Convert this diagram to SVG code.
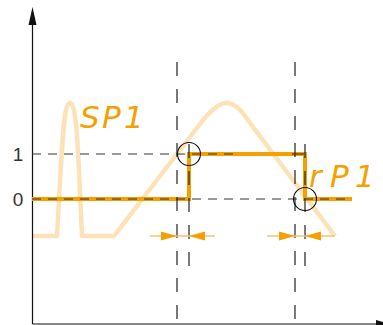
<svg xmlns="http://www.w3.org/2000/svg" width="383" height="325" viewBox="0 0 383 325">
<defs>
<style>
.axis{stroke:#111;stroke-width:1.2;fill:none}
.vd{stroke:#222;stroke-width:1.2;stroke-dasharray:14,13;fill:none}
.hd{stroke:#333;stroke-width:1.1;stroke-dasharray:9,7;fill:none}
.sig{stroke:#F5A000;stroke-width:4;fill:none;stroke-linejoin:miter}
.light{stroke:#FDE2B8;stroke-width:4.5;fill:none;stroke-linejoin:round}
.aline{stroke:#F8C270;stroke-width:1.5;fill:none}
.ah{fill:#F5A000}
.circ{stroke:#111;stroke-width:1.1;fill:none}
.lbl{font-family:"Liberation Sans",Arial,sans-serif;font-size:19px;fill:#333}
.seg{font-family:"DejaVu Sans","Liberation Sans",sans-serif;font-style:italic;font-weight:200;fill:#F5A000}
</style>
</defs>
<g id="curve">
<path class="light" d="M32,236 L57,236 C62,150 63,103 70,103 C77,103 78,150 82,236 L114,236 L200,124 C212,108 220,103 227,103 C234,103 240,108 250,123 L335,236"/>
</g>
<g id="axes">
<line class="axis" x1="32.5" y1="20" x2="32.5" y2="324"/>
<polygon points="32.5,7 28.5,25 36.5,25" fill="#111"/>
<line class="axis" x1="32.5" y1="324" x2="383" y2="324"/>
<polygon points="390,324 376,320 376,328" fill="#111"/>
</g>
<g id="signal">
<path class="sig" d="M32,199 H189 V154 H305 V199 H352"/>
</g>
<g id="connectors">
<line class="vd" x1="177" y1="62" x2="177" y2="324"/>
<line class="vd" x1="295" y1="62" x2="295" y2="324"/>
<line class="vd" x1="189" y1="144" x2="189" y2="270"/>
<line class="vd" x1="305" y1="144" x2="305" y2="270"/>
<line class="hd" x1="32" y1="154" x2="236" y2="154"/>
<line class="hd" x1="292" y1="154" x2="304" y2="154" style="stroke-dasharray:none"/>
<line class="hd" x1="32" y1="199" x2="350" y2="199"/>
<line class="aline" x1="150" y1="236" x2="215" y2="236"/>
<polygon class="ah" points="177,236 161,231.5 161,240.5"/>
<polygon class="ah" points="189,236 205,231.5 205,240.5"/>
<line class="aline" x1="267" y1="236" x2="335" y2="236"/>
<polygon class="ah" points="295,236 279,231.5 279,240.5"/>
<polygon class="ah" points="305,236 321,231.5 321,240.5"/>
</g>
<g id="circle1"><circle class="circ" cx="189" cy="154" r="11.5"/></g>
<g id="circle2"><circle class="circ" cx="305" cy="199" r="11.5"/></g>
<g id="labels">
<text class="lbl" x="18" y="161" text-anchor="middle">1</text>
<text class="lbl" x="18" y="206" text-anchor="middle">0</text>
<text class="seg" x="80 102 124" y="128" font-size="31">SP1</text>
<text class="seg" x="309 330 355" y="187" font-size="31">rP1</text>
</g>
</svg>
